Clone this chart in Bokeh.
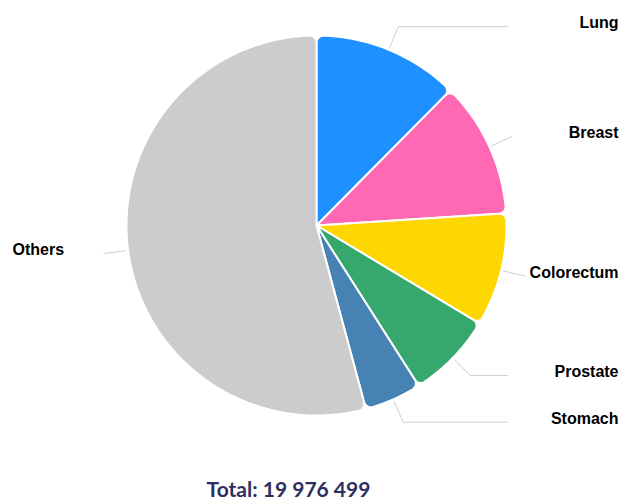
import math
from bokeh.plotting import figure
from bokeh.models import Range1d, ColumnDataSource
from bokeh.core.properties import value
from bokeh.embed import file_html
from bokeh.resources import INLINE

categories = ["Lung", "Breast", "Colorectum", "Prostate", "Stomach", "Others"]
cases = [2480675, 2308897, 1926118, 1467854, 968784, 10824171]
colors = ["#1E90FF", "#FF69B4", "#FFD700", "#36A86E", "#4682B4", "#CCCCCC"]
total_text = "Total: 19 976 499"

W, H = 620, 502
p = figure(width=W, height=H, x_range=Range1d(0, W), y_range=Range1d(0, H),
           output_backend="svg", toolbar_location=None, min_border=0)
p.axis.visible = False
p.grid.visible = False
p.outline_line_color = None
p.background_fill_color = "white"
p.border_fill_color = "white"

cx, cy, r = 316, 277, 190
rc = 7  # corner rounding
total = sum(cases)
starts, ends, mids = [], [], []
a = math.pi / 2
for v in cases:
    b = a - v / total * 2 * math.pi
    starts.append(b)
    ends.append(a)
    mids.append((a + b) / 2)
    a = b


def arc_pts(ox, oy, rad, t0, t1, n):
    return [(ox + rad * math.cos(t0 + (t1 - t0) * i / n),
             oy + rad * math.sin(t0 + (t1 - t0) * i / n)) for i in range(n + 1)]


def slice_poly(t0, t1):
    # t0 < t1 (anticlockwise from t0 to t1), rounded outer corners
    d = math.asin(rc / (r - rc))
    rr = r - rc
    pts = [(cx, cy)]
    ccx, ccy = cx + rr * math.cos(t0 + d), cy + rr * math.sin(t0 + d)
    pts += arc_pts(ccx, ccy, rc, t0 + d - math.pi / 2, t0 + d, 8)
    n = max(4, int((t1 - t0 - 2 * d) / 0.02))
    pts += arc_pts(cx, cy, r, t0 + d, t1 - d, n)
    ccx, ccy = cx + rr * math.cos(t1 - d), cy + rr * math.sin(t1 - d)
    pts += arc_pts(ccx, ccy, rc, t1 - d, t1 - d + math.pi / 2, 8)
    return [q[0] for q in pts], [q[1] for q in pts]


pxs, pys = [], []
for s0, e0 in zip(starts, ends):
    xx, yy = slice_poly(s0, e0)
    pxs.append(xx)
    pys.append(yy)

src = ColumnDataSource(dict(xs=pxs, ys=pys, cat=categories, color=colors))
p.patches(xs="xs", ys="ys", fill_color="color", line_color="white",
          line_width=2, line_join="round", source=src)

xs, ys, lx, ly, align = [], [], [], [], []
for m in mids:
    c, s = math.cos(m), math.sin(m)
    ax, ay = cx + (r + 2) * c, cy + (r + 2) * s
    bx, by = cx + (r + 25) * c, cy + (r + 25) * s
    if c >= 0:
        ex = max(bx, 507)
        xs.append([ax, bx, ex]); ys.append([ay, by, by])
        lx.append(618); align.append("right")
    else:
        xs.append([ax, bx]); ys.append([ay, by])
        lx.append(12); align.append("left")
    ly.append(by + 4)

p.multi_line(xs=xs, ys=ys, line_color="#cfcfcf", line_width=1)
lsrc = ColumnDataSource(dict(x=lx, y=ly, t=categories, align=align))
p.text(x="x", y="y", text="t", text_align="align", text_baseline="middle",
       text_font=value("Liberation Sans"), text_font_style="bold",
       text_font_size="16px", text_color="#000000", source=lsrc)

p.text(x=[288], y=[14], text=[total_text], text_align="center", text_baseline="middle",
       text_font=value("Lato"), text_font_style="bold", text_font_size="21px",
       text_color="#2E2F5E")

open("out.html", "w").write(file_html(p, INLINE))
